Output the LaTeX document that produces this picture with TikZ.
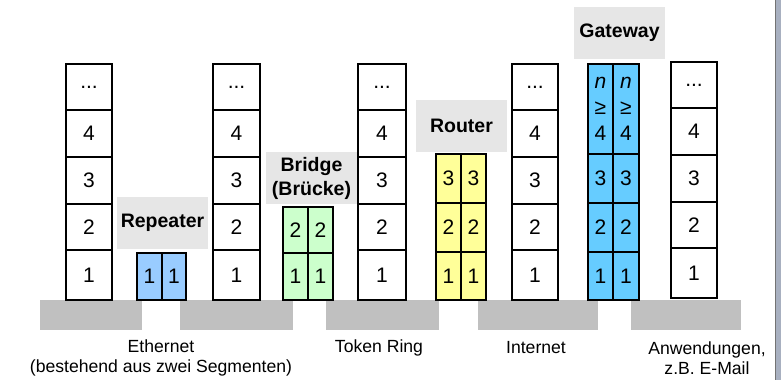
\documentclass[tikz,border=0pt]{standalone}
\usepackage{fontspec}
\setmainfont{Liberation Sans}
\definecolor{groundgray}{RGB}{192,192,192}
\definecolor{labelgray}{RGB}{230,230,230}
\definecolor{repblue}{RGB}{153,204,255}
\definecolor{bridgegreen}{RGB}{204,255,204}
\definecolor{routeryellow}{RGB}{255,255,153}
\definecolor{gateblue}{RGB}{102,204,255}
\definecolor{edgegray}{RGB}{168,176,192}
\newcommand\threedots{...}
\tikzset{
  cellbase/.style={rectangle, inner sep=0pt, outer sep=0pt, font=\fontsize{21}{24}\selectfont},
  wcell/.style={cellbase, draw=black, line width=2.2pt, fill=white},
  ccell/.style={cellbase, draw=black, line width=1.4pt},
  ground/.style={rectangle, inner sep=0pt, outer sep=0pt, fill=groundgray},
  devlabel/.style={rectangle, inner sep=0pt, outer sep=0pt, fill=labelgray, align=center,
    font=\fontsize{19.5}{24}\selectfont\bfseries},
  netlabel/.style={inner sep=0pt, align=center, font=\fontsize{17.6}{19.5}\selectfont}
}
\begin{document}
\begin{tikzpicture}[x=1pt,y=-1pt]
\useasboundingbox (0,0) rectangle (781,380);
% right edge strip
\fill[edgegray] (775.5,0) rectangle (781,380);
\draw[black!55, line width=0.8pt] (775.8,0) -- (775.8,380);
% ground bars
\foreach \g/\xa/\xb in {1/40/142, 2/180/293, 3/326/439, 4/478/598, 5/631/741} {
  \node[ground, minimum width={(\xb-\xa)*1pt}, minimum height=30pt] (g\g) at ({(\xa+\xb)/2},315) {};
}
% device labels
\node[devlabel, minimum width=91pt, minimum height=52pt] (lrep) at (162.5,223) {Repeater};
\node[devlabel, minimum width=91pt, minimum height=52pt] (lbri) at (311.5,178) {Bridge\\(Brücke)};
\node[devlabel, minimum width=91pt, minimum height=52pt] (lrou) at (461.5,126) {Router};
\node[devlabel, minimum width=91pt, minimum height=52pt] (lgat) at (619.5,33) {Gateway};
% white protocol stacks
\foreach \n/\xa/\xb/\dy in {1/66/112/0, 2/213/260/0, 3/358/406/0, 4/512/558/0, 5/671/717/-2} {
  \foreach \r/\ya/\yb/\t in {5/64/110/\threedots, 4/110/157/4, 3/157/204/3, 2/204/250/2, 1/250/300/1} {
    \node[wcell, minimum width={(\xb-\xa)*1pt}, minimum height={(\yb-\ya)*1pt}]
      (s\n r\r) at ({(\xa+\xb)/2},{(\ya+\yb)/2+\dy}) {\t};
  }
}
% repeater
\foreach \c/\xa/\xb in {a/137/162, b/162/186} {
  \node[ccell, fill=repblue, minimum width={(\xb-\xa)*1pt}, minimum height=47pt]
    (rep\c1) at ({(\xa+\xb)/2},276.5) {1};
}
% bridge
\foreach \c/\xa/\xb in {a/283/308, b/308/333} {
  \foreach \r/\ya/\yb in {2/207/253, 1/253/300} {
    \node[ccell, fill=bridgegreen, minimum width={(\xb-\xa)*1pt}, minimum height={(\yb-\ya)*1pt}]
      (bri\c\r) at ({(\xa+\xb)/2},{(\ya+\yb)/2}) {\r};
  }
}
% router
\foreach \c/\xa/\xb in {a/436/461, b/461/486} {
  \foreach \r/\ya/\yb in {3/154/203, 2/203/252, 1/252/300} {
    \node[ccell, fill=routeryellow, minimum width={(\xb-\xa)*1pt}, minimum height={(\yb-\ya)*1pt}]
      (rou\c\r) at ({(\xa+\xb)/2},{(\ya+\yb)/2}) {\r};
  }
}
% gateway
\foreach \c/\xa/\xb in {a/588/613, b/613/639} {
  \foreach \r/\ya/\yb in {3/154/203, 2/203/252, 1/252/300} {
    \node[ccell, fill=gateblue, minimum width={(\xb-\xa)*1pt}, minimum height={(\yb-\ya)*1pt}]
      (gat\c\r) at ({(\xa+\xb)/2},{(\ya+\yb)/2}) {\r};
  }
  \node[ccell, fill=gateblue, minimum width={(\xb-\xa)*1pt}, minimum height=90pt, align=center]
    (gat\c4) at ({(\xa+\xb)/2},109) {\textit{n}\\[2pt]≥\\[2pt]4};
}
% network labels
\node[netlabel] (tether) at (161,358) {Ethernet\\(bestehend aus zwei Segmenten)};
\node[netlabel] (ttoken) at (379,348) {Token Ring};
\node[netlabel] (tinet) at (536,348) {Internet};
\node[netlabel] (tapp) at (707,358) {Anwendungen,\\z.B. E-Mail};
\end{tikzpicture}
\end{document}
